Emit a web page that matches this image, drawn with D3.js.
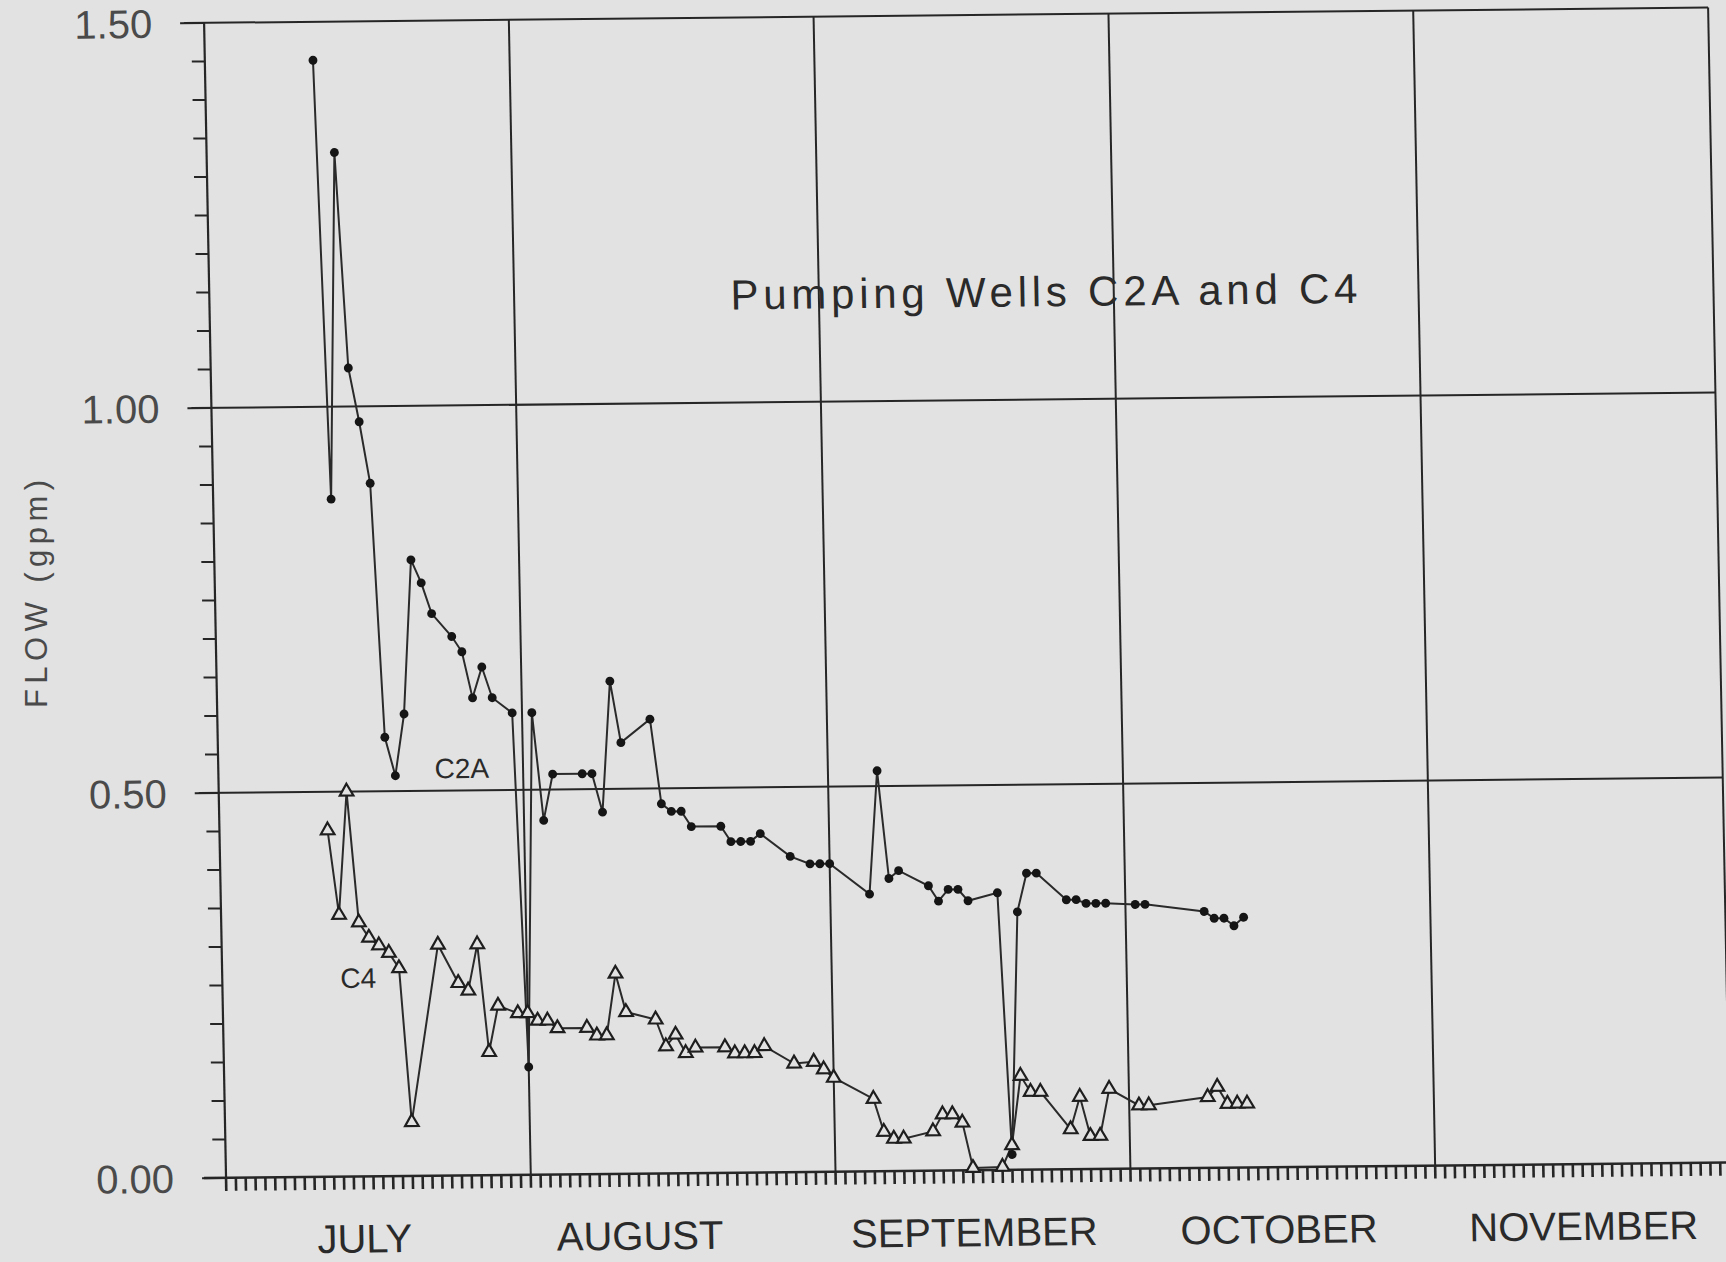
<!DOCTYPE html>
<html>
<head>
<meta charset="utf-8">
<script src="https://cdn.jsdelivr.net/npm/d3@7"></script>
<style>
  body { margin: 0; background: #e2e2e2; }
  svg { display: block; }
</style>
</head>
<body>
<div id="chart"></div>
<script>
// Readings taken off the scanned plot (flow in gpm)
const c2aDates = [
  '1990-07-12', '1990-07-13', '1990-07-14', '1990-07-15', '1990-07-16', '1990-07-17',
  '1990-07-18', '1990-07-19', '1990-07-20', '1990-07-21', '1990-07-22', '1990-07-23',
  '1990-07-25', '1990-07-26', '1990-07-27', '1990-07-28', '1990-07-29', '1990-07-31',
  '1990-08-01', '1990-08-02', '1990-08-03', '1990-08-04', '1990-08-07', '1990-08-08',
  '1990-08-09', '1990-08-10', '1990-08-11', '1990-08-14', '1990-08-15', '1990-08-16',
  '1990-08-17', '1990-08-18', '1990-08-21', '1990-08-22', '1990-08-23', '1990-08-24',
  '1990-08-25', '1990-08-28', '1990-08-30', '1990-08-31', '1990-09-01', '1990-09-05',
  '1990-09-06', '1990-09-07', '1990-09-08', '1990-09-11', '1990-09-12', '1990-09-13',
  '1990-09-14', '1990-09-15', '1990-09-18', '1990-09-19', '1990-09-20', '1990-09-21',
  '1990-09-22', '1990-09-25', '1990-09-26', '1990-09-27', '1990-09-28', '1990-09-29',
  '1990-10-02', '1990-10-03', '1990-10-09', '1990-10-10', '1990-10-11', '1990-10-12',
  '1990-10-13'
];
const c2aFlow = [
  1.45, 0.88, 1.33, 1.05, 0.98, 0.90,
  0.57, 0.52, 0.60, 0.80, 0.77, 0.73,
  0.70, 0.68, 0.62, 0.66, 0.62, 0.60,
  0.14, 0.60, 0.46, 0.52, 0.52, 0.52,
  0.47, 0.64, 0.56, 0.59, 0.48, 0.47,
  0.47, 0.45, 0.45, 0.43, 0.43, 0.43,
  0.44, 0.41, 0.40, 0.40, 0.40, 0.36,
  0.52, 0.38, 0.39, 0.37, 0.35, 0.365,
  0.365, 0.35, 0.36, 0.02, 0.335, 0.385,
  0.385, 0.35, 0.35, 0.345, 0.345, 0.345,
  0.343, 0.343, 0.333, 0.324, 0.324, 0.314,
  0.325
];

const c4Dates = [
  '1990-07-12', '1990-07-13', '1990-07-14', '1990-07-15', '1990-07-16', '1990-07-17',
  '1990-07-18', '1990-07-19', '1990-07-20', '1990-07-23', '1990-07-25', '1990-07-26',
  '1990-07-27', '1990-07-28', '1990-07-29', '1990-07-31', '1990-08-01', '1990-08-02',
  '1990-08-03', '1990-08-04', '1990-08-07', '1990-08-08', '1990-08-09', '1990-08-10',
  '1990-08-11', '1990-08-14', '1990-08-15', '1990-08-16', '1990-08-17', '1990-08-18',
  '1990-08-21', '1990-08-22', '1990-08-23', '1990-08-24', '1990-08-25', '1990-08-28',
  '1990-08-30', '1990-08-31', '1990-09-01', '1990-09-05', '1990-09-06', '1990-09-07',
  '1990-09-08', '1990-09-11', '1990-09-12', '1990-09-13', '1990-09-14', '1990-09-15',
  '1990-09-18', '1990-09-19', '1990-09-20', '1990-09-21', '1990-09-22', '1990-09-25',
  '1990-09-26', '1990-09-27', '1990-09-28', '1990-09-29', '1990-10-02', '1990-10-03',
  '1990-10-09', '1990-10-10', '1990-10-11', '1990-10-12', '1990-10-13'
];
const c4Flow = [
  0.45, 0.34, 0.50, 0.33, 0.31, 0.30,
  0.29, 0.27, 0.07, 0.30, 0.25, 0.24,
  0.30, 0.16, 0.22, 0.21, 0.21, 0.20,
  0.20, 0.19, 0.19, 0.18, 0.18, 0.26,
  0.21, 0.20, 0.165, 0.18, 0.156, 0.163,
  0.163, 0.155, 0.155, 0.155, 0.164, 0.141,
  0.143, 0.133, 0.122, 0.094, 0.051, 0.042,
  0.042, 0.051, 0.073, 0.073, 0.062, 0.003,
  0.004, 0.032, 0.122, 0.101, 0.101, 0.052,
  0.094, 0.043, 0.043, 0.104, 0.082, 0.082,
  0.092, 0.105, 0.083, 0.083, 0.083
];

const monthLabels = ['JULY', 'AUGUST', 'SEPTEMBER', 'OCTOBER', 'NOVEMBER'];
// Where each month name sits along the axis (centre of the word)
const monthLabelDates = ['1990-07-15', '1990-08-12', '1990-09-15', '1990-10-16', '1990-11-16'];
const yTickValues = [0, 0.5, 1.0, 1.5];
const chartTitle = 'Pumping  Wells  C2A  and  C4';

const parseDate = d3.utcParse('%Y-%m-%d');

// Overall size of the page and the plotting box
const width = 1726;
const height = 1262;
const plotW = 1504;
const plotH = 1155;

const svg = d3
  .select('#chart')
  .append('svg')
  .attr('width', width)
  .attr('height', height);

svg.append('rect')
  .attr('width', width)
  .attr('height', height)
  .attr('fill', '#e2e2e2');

// The scan is slightly tilted and sheared, so the whole plot sits in a
// skewed group:
const g = svg
  .append('g')
  .attr('transform', 'matrix(1,-0.0102,0.019,1,204.1,22.9)');

const startDate = new Date(Date.UTC(1990, 6, 1));
const endDate = new Date(Date.UTC(1990, 11, 1));

const x = d3.scaleUtc().domain([startDate, endDate]).range([0, plotW]);
const y = d3.scaleLinear().domain([0, 1.5]).range([plotH, 0]);

const ink = '#262626';

// Month grid lines
const monthStarts = d3.utcMonth.range(startDate, endDate);
g.selectAll('.vgrid')
  .data(monthStarts.slice(1).concat([endDate]))
  .enter()
  .append('line')
  .attr('x1', d => x(d))
  .attr('x2', d => x(d))
  .attr('y1', 0)
  .attr('y2', plotH)
  .attr('stroke', ink)
  .attr('stroke-width', 2);

// Horizontal grid lines (including the top border)
g.selectAll('.hgrid')
  .data(yTickValues.slice(1))
  .enter()
  .append('line')
  .attr('x1', -20)
  .attr('x2', plotW)
  .attr('y1', d => y(d))
  .attr('y2', d => y(d))
  .attr('stroke', ink)
  .attr('stroke-width', 2);

// Left axis line and minor ticks every 0.05
g.append('line')
  .attr('x1', 0).attr('x2', 0)
  .attr('y1', 0).attr('y2', plotH)
  .attr('stroke', ink)
  .attr('stroke-width', 2.2);

g.selectAll('.yminor')
  .data(d3.range(0, 31).map(i => i * 0.05))
  .enter()
  .append('line')
  .attr('x1', d => (Math.round(d * 20) % 10 === 0 ? -24 : -13))
  .attr('x2', 0)
  .attr('y1', d => y(d))
  .attr('y2', d => y(d))
  .attr('stroke', ink)
  .attr('stroke-width', 2);

// Bottom axis with daily ticks
g.append('line')
  .attr('x1', -22).attr('x2', plotW)
  .attr('y1', plotH).attr('y2', plotH)
  .attr('stroke', ink)
  .attr('stroke-width', 2.5);

g.selectAll('.xday')
  .data(d3.utcDay.range(startDate, d3.utcDay.offset(endDate, 1)))
  .enter()
  .append('line')
  .attr('x1', d => x(d))
  .attr('x2', d => x(d))
  .attr('y1', plotH)
  .attr('y2', plotH + 13)
  .attr('stroke', ink)
  .attr('stroke-width', 2.6);

// Y tick labels
g.selectAll('.ylabel')
  .data(yTickValues)
  .enter()
  .append('text')
  .attr('x', -52)
  .attr('y', d => y(d))
  .attr('dy', '0.36em')
  .attr('text-anchor', 'end')
  .attr('fill', '#4a4a4a')
  .style('font-family', '"Liberation Sans", Arial, sans-serif')
  .style('font-size', '40px')
  .text(d => d3.format('.2f')(d));

// Month labels under the axis
g.selectAll('.mlabel')
  .data(monthLabelDates)
  .enter()
  .append('text')
  .attr('x', d => x(parseDate(d)))
  .attr('y', plotH + 76)
  .attr('text-anchor', 'middle')
  .attr('fill', '#2a2a2a')
  .style('font-family', '"Liberation Sans", Arial, sans-serif')
  .style('font-size', '40px')
  .text((d, i) => monthLabels[i]);

// Y axis title
svg.append('text')
  .attr('transform', 'translate(47, 594) rotate(-90)')
  .attr('text-anchor', 'middle')
  .attr('fill', '#4a4a4a')
  .attr('textLength', 228)
  .style('font-family', '"Liberation Sans", Arial, sans-serif')
  .style('font-size', '31px')
  .text('FLOW (gpm)');

// Chart title inside the plot
g.append('text')
  .attr('x', x(parseDate('1990-08-23')))
  .attr('y', y(1.121))
  .attr('textLength', 627)
  .attr('fill', '#2a2a2a')
  .style('font-family', '"Liberation Sans", Arial, sans-serif')
  .style('font-size', '42px')
  .text(chartTitle);

// Series
const c2a = c2aDates.map((d, i) => ({ date: parseDate(d), flow: c2aFlow[i] }));
const c4 = c4Dates.map((d, i) => ({ date: parseDate(d), flow: c4Flow[i] }));

const line = d3.line().x(d => x(d.date)).y(d => y(d.flow));

[c2a, c4].forEach(series => {
  g.append('path')
    .datum(series)
    .attr('fill', 'none')
    .attr('stroke', '#2a2a2a')
    .attr('stroke-width', 2)
    .attr('d', line);
});

g.selectAll('.c4pt')
  .data(c4)
  .enter()
  .append('path')
  .attr('transform', d => `translate(${x(d.date)},${y(d.flow)})`)
  .attr('d', d3.symbol().type(d3.symbolTriangle).size(80))
  .attr('fill', '#e2e2e2')
  .attr('stroke', '#1e1e1e')
  .attr('stroke-width', 2.2);

g.selectAll('.c2apt')
  .data(c2a)
  .enter()
  .append('path')
  .attr('transform', d => `translate(${x(d.date)},${y(d.flow)})`)
  .attr('d', d3.symbol().type(d3.symbolCircle).size(62))
  .attr('fill', '#151515');

// Series labels
const seriesLabels = [
  { text: 'C2A', date: '1990-07-23', flow: 0.516 },
  { text: 'C4', date: '1990-07-13', flow: 0.245 }
];
g.selectAll('.slabel')
  .data(seriesLabels)
  .enter()
  .append('text')
  .attr('x', d => x(parseDate(d.date)))
  .attr('y', d => y(d.flow))
  .attr('fill', '#2a2a2a')
  .style('font-family', '"Liberation Sans", Arial, sans-serif')
  .style('font-size', '28px')
  .text(d => d.text);
</script>
</body>
</html>
